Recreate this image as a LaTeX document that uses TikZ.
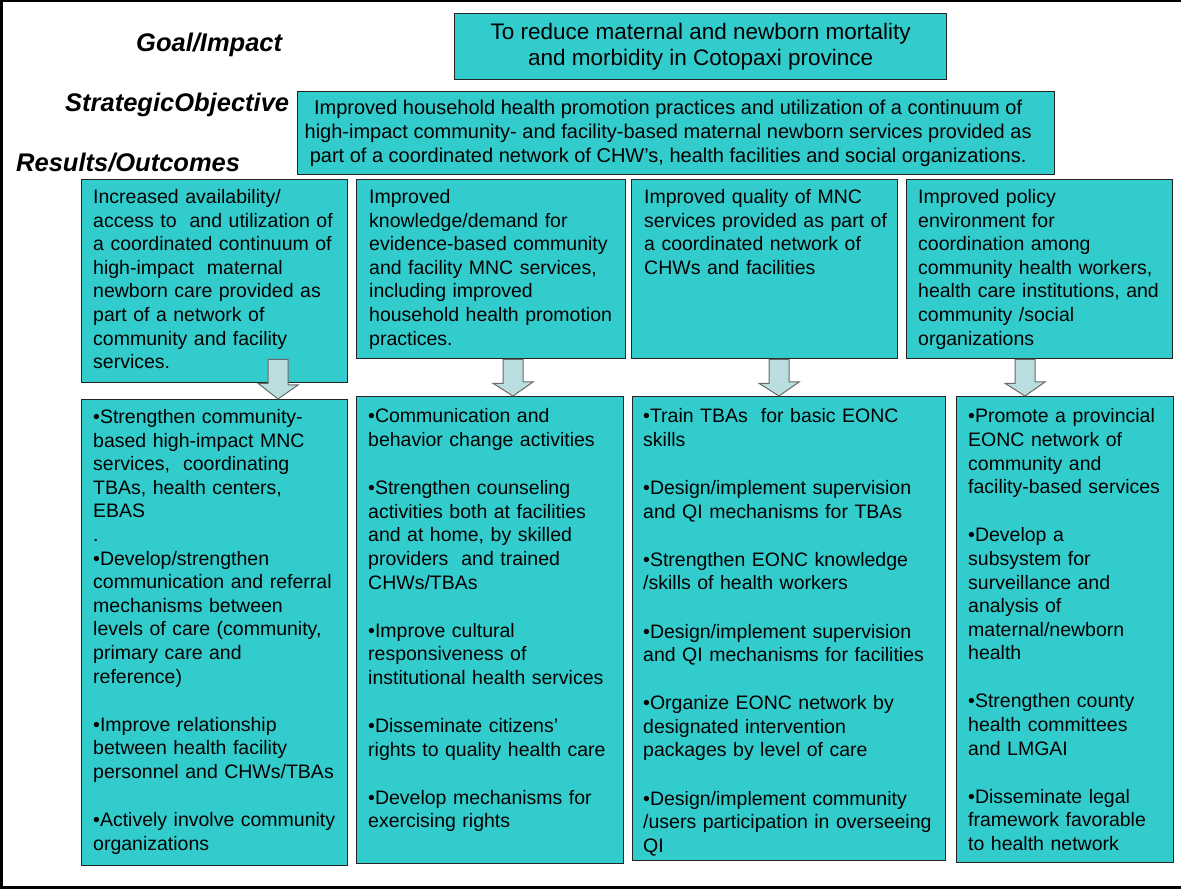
\documentclass[tikz,border=0pt]{standalone}
\usepackage{fontspec}
\setmainfont{Liberation Sans}
\usetikzlibrary{positioning}
\definecolor{boxteal}{RGB}{51,204,204}
\definecolor{boxline}{RGB}{35,35,35}
\definecolor{arrowfill}{RGB}{186,222,224}
\definecolor{arrowline}{RGB}{105,105,105}

\begin{document}
\begin{tikzpicture}[x=1pt, y=-1pt,
    box/.style={draw=boxline, line width=1.3pt, fill=boxteal, anchor=north west, inner sep=0pt},
    boxtext/.style={anchor=base west, inner sep=0pt, text width=330pt, align=left,
        font=\fontsize{19.5}{23.6}\selectfont},
    level/.style={anchor=base west, inner sep=0pt, font=\fontsize{25.5}{30}\selectfont\bfseries\itshape},
    downarrow/.style={draw=arrowline, fill=arrowfill, line width=1pt, line join=miter}]

\useasboundingbox (0,0) rectangle (1181,890);
\draw[line width=2.5pt] (1181,1.25) -- (1.25,1.25) -- (1.25,887.5) -- (1181,887.5);

% row captions
\node[level] (goallbl) at (136,52) {Goal/Impact};
\node[level] (sobjlbl) at (65,112) {StrategicObjective};
\node[level] (reslbl) at (16,172) {Results/Outcomes};

\node[box, minimum width=492pt, minimum height=66pt, align=center,
      font=\fontsize{22.5}{25.5}\selectfont] (goal) at (454,13)
    {To reduce maternal and newborn mortality\\and morbidity in Cotopaxi province};
\node[box, minimum width=757pt, minimum height=83pt] (sobj) at (297,91) {};
\node[align=center, inner sep=0pt, font=\fontsize{20}{24}\selectfont] (sobjt)
    at ([xshift=-8pt]sobj.center)
    {Improved household health promotion practices and utilization of a continuum of\\
     high-impact community- and facility-based maternal newborn services provided as\\
     part of a coordinated network of CHW’s, health facilities and social organizations.};

% results
\node[box, minimum width=266pt, minimum height=203pt] (r1) at (81,179) {};
\node[box, minimum width=269pt, minimum height=179pt] (r2) at (356,179) {};
\node[box, minimum width=266pt, minimum height=179pt] (r3) at (631,179) {};
\node[box, minimum width=266pt, minimum height=179pt] (r4) at (906,179) {};

\node[boxtext] (r1t) at ([shift={(12,24.5)}]r1.north west)
    {Increased availability/\\access to\ \ and utilization of\\a coordinated continuum of\\
     high-impact\ \ maternal\\newborn care provided as\\part of a network of\\
     community and facility\\services.};
\node[boxtext] (r2t) at ([shift={(13,24.5)}]r2.north west)
    {Improved\\knowledge/demand for\\evidence-based community\\and facility MNC services,\\
     including improved\\household health promotion\\practices.};
\node[boxtext] (r3t) at ([shift={(13,24.5)}]r3.north west)
    {Improved quality of MNC\\services provided as part of\\a coordinated network of\\
     CHWs and facilities};
\node[boxtext] (r4t) at ([shift={(12,24.5)}]r4.north west)
    {Improved policy\\environment for\\coordination among\\community health workers,\\
     health care institutions, and\\community /social\\organizations};

% activities
\node[box, minimum width=266pt, minimum height=466pt] (b1) at (81,399) {};
\node[box, minimum width=267pt, minimum height=467pt] (b2) at (356,396) {};
\node[box, minimum width=313pt, minimum height=464pt] (b3) at (632,396) {};
\node[box, minimum width=217pt, minimum height=466pt] (b4) at (956,396) {};

\node[boxtext] (b1t) at ([shift={(12,24.5)}]b1.north west)
    {•Strengthen community-\\based high-impact MNC\\services,\ \ coordinating\\
     TBAs, health centers,\\EBAS\\.\\•Develop/strengthen\\communication and referral\\
     mechanisms between\\levels of care (community,\\primary care and\\reference)\\[24.5pt]
     •Improve relationship\\between health facility\\personnel and CHWs/TBAs\\[24.5pt]
     •Actively involve community\\organizations};
\node[boxtext] (b2t) at ([shift={(12,27)}]b2.north west)
    {•Communication and\\behavior change activities\\[24.5pt]
     •Strengthen counseling\\activities both at facilities\\and at home, by skilled\\
     providers\ \ and trained\\CHWs/TBAs\\[24.5pt]
     •Improve cultural\\responsiveness of\\institutional health services\\[24.5pt]
     •Disseminate citizens’\\rights to quality health care\\[24.5pt]
     •Develop mechanisms for\\exercising rights};
\node[boxtext] (b3t) at ([shift={(11,27)}]b3.north west)
    {•Train TBAs\ \ for basic EONC\\skills\\[24.5pt]
     •Design/implement supervision\\and QI mechanisms for TBAs\\[24.5pt]
     •Strengthen EONC knowledge\\/skills of health workers\\[24.5pt]
     •Design/implement supervision\\and QI mechanisms for facilities\\[24.5pt]
     •Organize EONC network by\\designated intervention\\packages by level of care\\[24.5pt]
     •Design/implement community\\/users participation in overseeing\\QI};
\node[boxtext] (b4t) at ([shift={(12,27)}]b4.north west)
    {•Promote a provincial\\EONC network of\\community and\\facility-based services\\[24.5pt]
     •Develop a\\subsystem for\\surveillance and\\analysis of\\maternal/newborn\\health\\[24.5pt]
     •Strengthen county\\health committees\\and LMGAI\\[24.5pt]
     •Disseminate legal\\framework favorable\\to health network};

% block arrows from each result down to its activities
\foreach \i/\x in {1/278, 2/513, 3/779, 4/1025}
    \draw[downarrow] (\x,0 |- r2.south) ++(-10,0) -- ++(0,24) -- ++(-10,0)
        -- (\x,0 |- b\i.north) -- ++(20,-14) -- ++(-10,0) -- ({\x+10},0 |- r2.south) -- cycle;
\end{tikzpicture}
\end{document}
